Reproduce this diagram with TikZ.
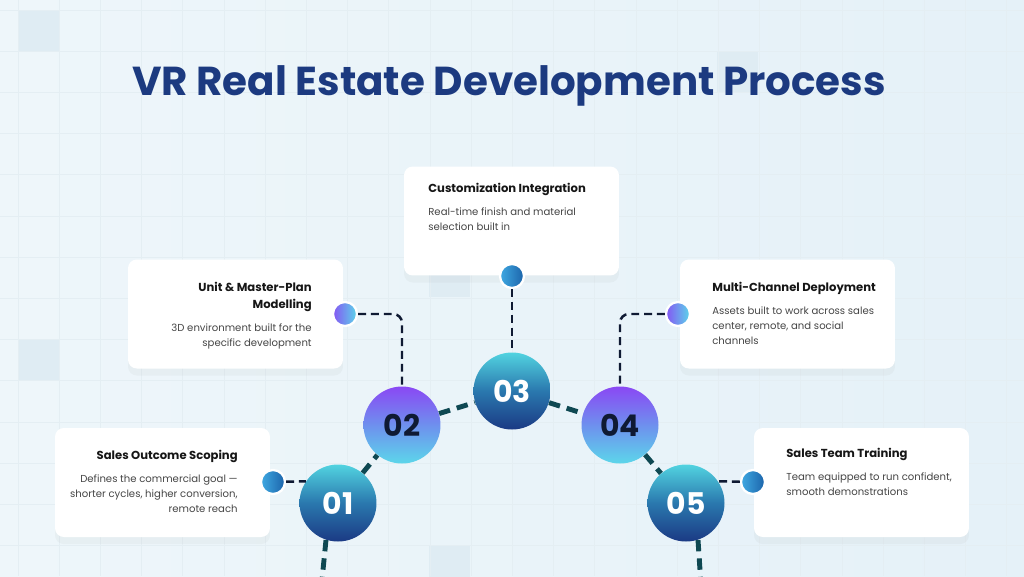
\documentclass[tikz,border=0pt]{standalone}
\usepackage{fontspec}
\setmainfont{Poppins}
\usetikzlibrary{shadows}

\definecolor{bgL}{HTML}{EEF6FA}
\definecolor{bgM}{HTML}{F6FAFC}
\definecolor{bgR}{HTML}{E5F1F8}
\definecolor{gridc}{HTML}{E4EEF3}
\definecolor{tilec}{HTML}{DFECF3}
\definecolor{headblue}{HTML}{1C3A80}
\definecolor{cardhead}{HTML}{161616}
\definecolor{cardbody}{HTML}{454545}
\definecolor{navyline}{HTML}{0F1A33}
\definecolor{tealline}{HTML}{0E4852}
\definecolor{cyanT}{HTML}{52D3E0}
\definecolor{blueM}{HTML}{2A78AE}
\definecolor{navyB}{HTML}{1B3A84}
\definecolor{purpT}{HTML}{8A48F4}
\definecolor{lilaM}{HTML}{6E90EE}
\definecolor{cyanB}{HTML}{5CD6EA}
\definecolor{dotL}{HTML}{3FA9E2}
\definecolor{dotR}{HTML}{1B63AA}

\newcommand{\cardtitle}[1]{{\bfseries\fontsize{6.6}{9.6}\selectfont\color{cardhead}#1}}

\tikzset{
  card/.style={fill=white, rounded corners=5pt, minimum width=4.3cm, minimum height=2.18cm,
    drop shadow={shadow xshift=0pt, shadow yshift=-4pt, opacity=0.06}},
  cardtxt/.style={inner sep=0, text=cardbody, font=\fontsize{5.75}{8.4}\selectfont},
  bigodd/.style={circle, minimum size=1.54cm, inner sep=0, top color=cyanT, bottom color=navyB,
    middle color=blueM, text=white, font=\bfseries\fontsize{17}{20}\selectfont},
  bigeven/.style={circle, minimum size=1.54cm, inner sep=0, top color=purpT, bottom color=cyanB,
    middle color=lilaM, text=navyline, font=\bfseries\fontsize{17}{20}\selectfont},
  dotblue/.style={circle, minimum size=0.48cm, inner sep=0, draw=white, line width=1.3pt,
    left color=dotL, right color=dotR},
  dotlila/.style={circle, minimum size=0.48cm, inner sep=0, draw=white, line width=1.3pt,
    left color=purpT!80!lilaM, right color=cyanB},
  linkthin/.style={draw=navyline, line width=1.4pt, dash pattern=on 4.5pt off 2.8pt},
  linkthick/.style={draw=tealline, line width=2.8pt, dash pattern=on 6.5pt off 4pt}
}

\begin{document}
\begin{tikzpicture}[x=0.02cm, y=-0.02cm]
  \useasboundingbox (0,0) rectangle (1024,576);
  \clip (0,0) rectangle (1024,576);

  % background and grid
  \fill[left color=bgL, middle color=bgM, right color=bgR] (0,0) rectangle (1024,576);
  \foreach \sx/\sy in {18/10, 717/51, 18/339, 429/256, 429/545}
    \fill[tilec] (\sx,\sy) rectangle ++(41,41);
  \foreach \gx in {18,59.2,...,1024}
    \draw[gridc, line width=0.5pt] (\gx,0) -- (\gx,576);
  \foreach \gy in {10,51.2,...,576}
    \draw[gridc, line width=0.5pt] (0,\gy) -- (1024,\gy);

  \node[anchor=base, inner sep=0, text=headblue, font=\bfseries\fontsize{23}{27}\selectfont]
    (title) at (509,95) {VR Real Estate Development Process};

  % cards
  \node[card] (card1) at (162.5,482.5) {};
  \node[card] (card2) at (235.5,314) {};
  \node[card] (card3) at (511.5,221) {};
  \node[card] (card4) at (787.5,314) {};
  \node[card] (card5) at (861.5,482.5) {};

  \node[cardtxt, align=right, anchor=north east] (txt1) at (238,450)
    {\cardtitle{Sales Outcome Scoping}\\[4.8pt]
     Defines the commercial goal ---\\ shorter cycles, higher conversion,\\ remote reach};
  \node[cardtxt, align=right, anchor=north east] (txt2) at (312,282)
    {\cardtitle{Unit \& Master-Plan}\\[1.1pt] \cardtitle{Modelling}\\[4.8pt]
     3D environment built for the\\ specific development};
  \node[cardtxt, align=left, anchor=north west] (txt3) at (428,183)
    {\cardtitle{Customization Integration}\\[4.8pt]
     Real-time finish and material\\ selection built in};
  \node[cardtxt, align=left, anchor=north west] (txt4) at (712,282)
    {\cardtitle{Multi-Channel Deployment}\\[4.8pt]
     Assets built to work across sales\\ center, remote, and social\\ channels};
  \node[cardtxt, align=left, anchor=north west] (txt5) at (786,448)
    {\cardtitle{Sales Team Training}\\[4.8pt]
     Team equipped to run confident,\\ smooth demonstrations};

  % step circles
  \foreach \n/\x/\y in {01/338/503, 03/512/391, 05/686/503}
    \node[bigodd] (c\n) at (\x,\y) {\n};
  \foreach \n/\x/\y in {02/402/425, 04/620/425}
    \node[bigeven] (c\n) at (\x,\y) {\n};

  \node[dotblue] (dot1) at (273,482) {};
  \node[dotlila] (dot2) at (345,314) {};
  \node[dotblue] (dot3) at (512,276) {};
  \node[dotlila] (dot4) at (678,314) {};
  \node[dotblue] (dot5) at (753,482) {};

  % connectors
  \draw[linkthin] (dot1) -- (c01.146);
  \draw[linkthin, rounded corners=5pt] (dot2) -| (c02);
  \draw[linkthin] (dot3) -- (c03);
  \draw[linkthin, rounded corners=5pt] (dot4) -| (c04);
  \draw[linkthin] (dot5) -- (c05.34);

  \draw[linkthick] (c01) -- (c02);
  \draw[linkthick] (c02) -- (c03);
  \draw[linkthick] (c03) -- (c04);
  \draw[linkthick] (c04) -- (c05);

  \coordinate (out1) at (320,600);
  \coordinate (out5) at (702,600);
  \draw[linkthick] (c01.-108) -- (out1);
  \draw[linkthick] (c05.-72) -- (out5);
\end{tikzpicture}
\end{document}
